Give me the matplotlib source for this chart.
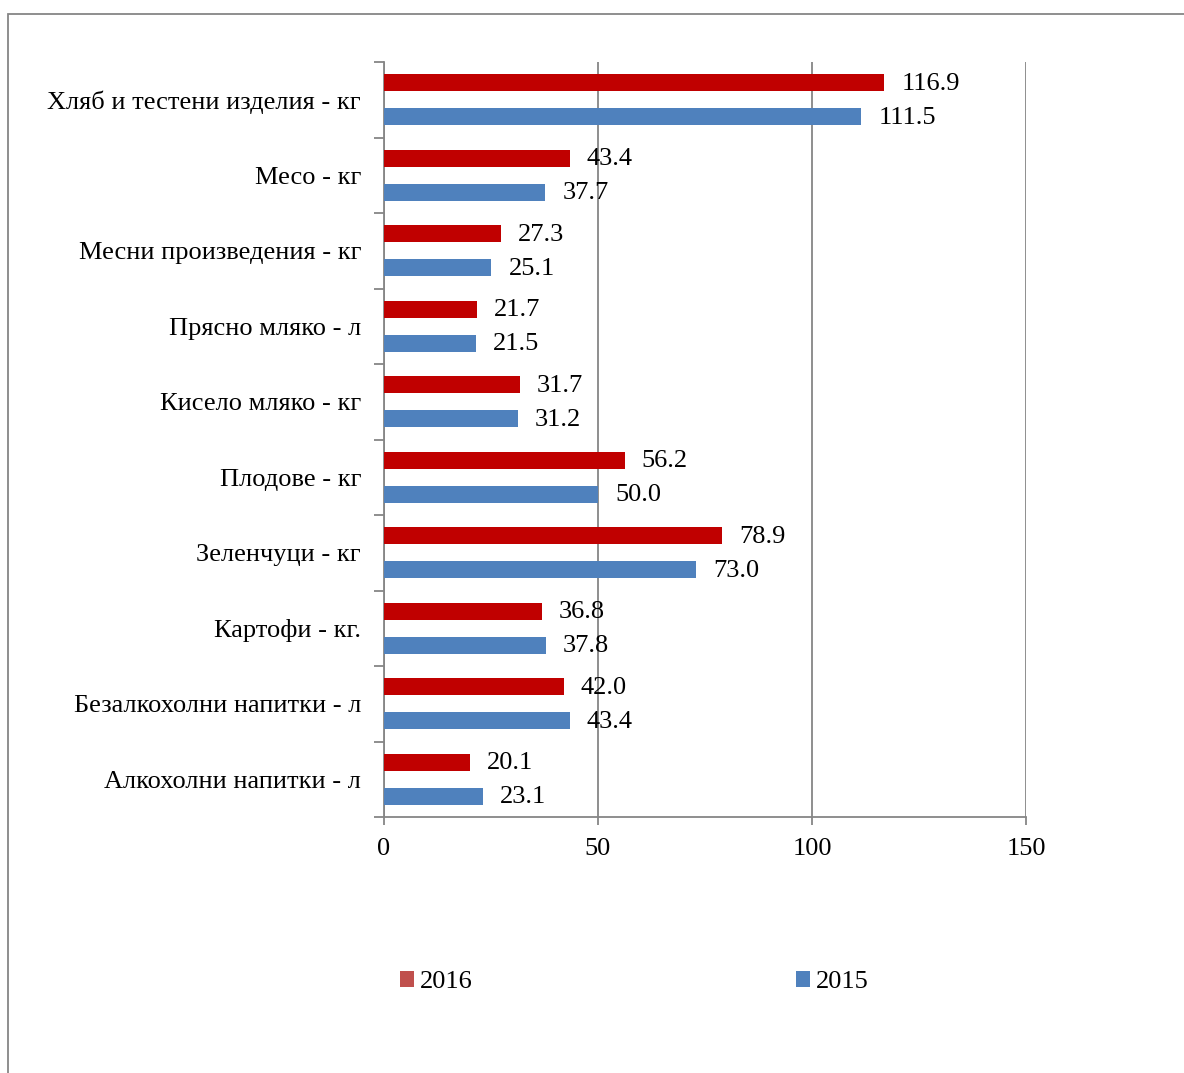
import numpy as np
import matplotlib.pyplot as plt
from matplotlib.patches import Patch, Rectangle

plt.rcParams['font.family'] = ['Liberation Serif', 'DejaVu Serif']

# data (top to bottom as in the chart)
categories = ['Хляб и тестени изделия - кг', 'Месо - кг', 'Месни произведения - кг',
              'Прясно мляко - л', 'Кисело мляко - кг', 'Плодове - кг', 'Зеленчуци - кг',
              'Картофи - кг.', 'Безалкохолни напитки - л', 'Алкохолни напитки - л']
vals_2016 = [116.9, 43.4, 27.3, 21.7, 31.7, 56.2, 78.9, 36.8, 42.0, 20.1]
vals_2015 = [111.5, 37.7, 25.1, 21.5, 31.2, 50.0, 73.0, 37.8, 43.4, 23.1]
x_ticks = [0, 50, 100, 150]

red = '#C00000'
red_leg = '#C0504D'
blue = '#4F81BD'
gray = '#868686'
fs = 19

fig = plt.figure(figsize=(11.84, 10.73), dpi=100)
ax = fig.add_axes([384/1184, 1 - 817/1073, 642/1184, 755/1073])

n = len(categories)
y = np.arange(n)[::-1].astype(float)  # first category at top
h = 0.22
off = 0.225
ax.barh(y + off, vals_2016, height=h, color=red, zorder=3)
ax.barh(y - off, vals_2015, height=h, color=blue, zorder=3)

# value labels just right of the bars
for yy, v in zip(y + off, vals_2016):
    ax.text(v + 4, yy - 0.015, f'{v:.1f}', va='center', ha='left', fontsize=fs, zorder=4)
for yy, v in zip(y - off, vals_2015):
    ax.text(v + 4, yy - 0.015, f'{v:.1f}', va='center', ha='left', fontsize=fs, zorder=4)

ax.set_xlim(0, 150)
ax.set_ylim(-0.5, n - 0.5)
ax.set_xticks(x_ticks)
ax.set_xticklabels([str(t) for t in x_ticks], fontsize=fs)
ax.set_yticks(np.arange(-0.5, n, 1.0))
ax.set_yticklabels([])
ax.set_yticks(y, minor=True)
ax.set_yticklabels(categories, minor=True, fontsize=fs)
ax.tick_params(axis='y', which='minor', length=0, pad=16.5)
ax.tick_params(axis='y', which='major', length=7, width=1.3, color=gray, direction='out')
ax.tick_params(axis='x', length=6, width=1.3, color=gray, direction='out', pad=9)

ax.grid(axis='x', color=gray, linewidth=1.3, zorder=0)
for s in ['top', 'right']:
    ax.spines[s].set_visible(False)
for s in ['left', 'bottom']:
    ax.spines[s].set_color(gray)
    ax.spines[s].set_linewidth(1.3)

handles = [Patch(facecolor=red_leg, label='2016'), Patch(facecolor=blue, label='2015')]
fig.legend(handles=handles, loc='center', bbox_to_anchor=(634/1184, 1 - 982/1073), ncol=2,
           frameon=False, fontsize=fs, handlelength=0.55, handleheight=0.55, handletextpad=0.2,
           columnspacing=12.25)

# outer frame
fig.patches.append(Rectangle((8/1184, -0.05), 1.1, 1 - 14/1073 + 0.05, transform=fig.transFigure,
                             fill=False, edgecolor=gray, linewidth=1.3))

fig.savefig('out.png', dpi=100)
